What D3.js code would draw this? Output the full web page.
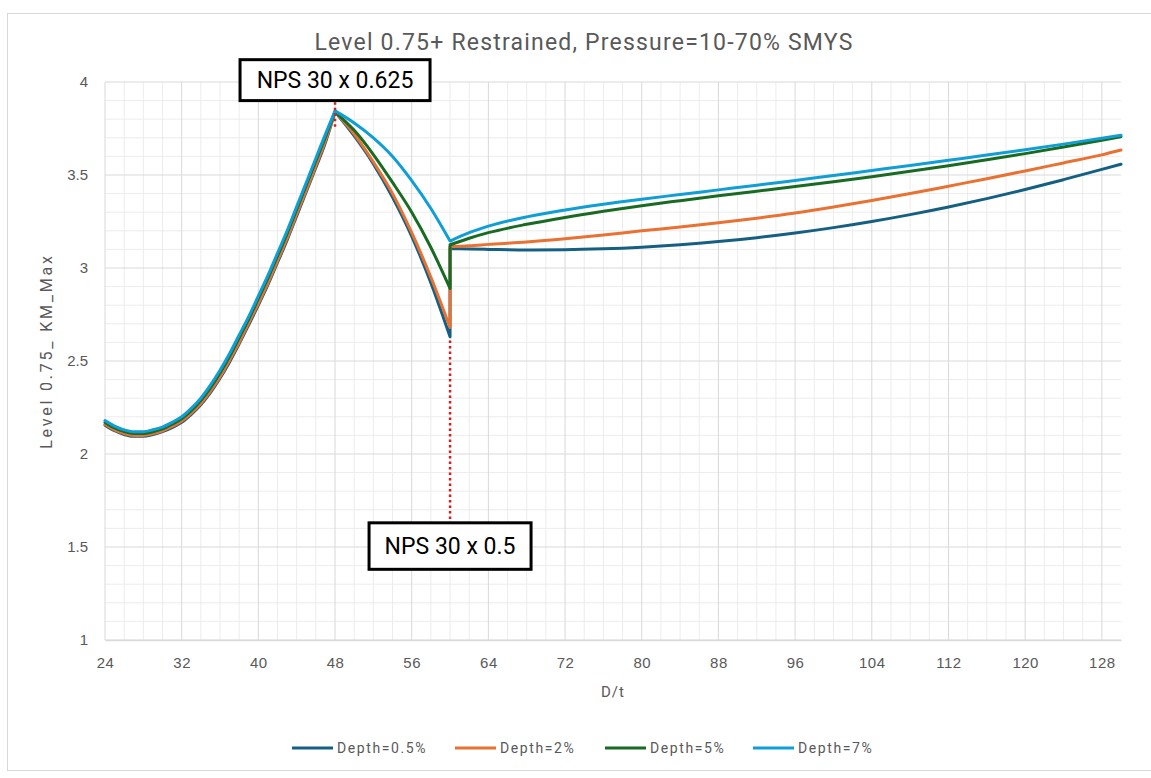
<!DOCTYPE html>
<html>
<head>
<meta charset="utf-8">
<script src="https://cdn.jsdelivr.net/npm/d3@7"></script>
<style>
  html, body { margin: 0; padding: 0; background: #ffffff; }
  svg { display: block; font-family: "Roboto", "Liberation Sans", sans-serif; }
</style>
</head>
<body>
<svg id="chart" width="1151" height="778"></svg>
<script>
// ---------------- DATA ----------------
const chartTitle = "Level 0.75+ Restrained, Pressure=10-70% SMYS";
const xTitle = "D/t";
const yTitle = "Level 0.75_ KM_Max";

// D/t sample points (60 appears twice: the step at NPS 30 x 0.5)
const dt = [24,25,26,27,28,29,30,31,32,33,34,35,36,37,38,39,40,41,42,43,44,45,46,47,48,
            50,52,54,56,58,60,
            60,62,64,68,72,76,80,84,88,92,96,100,104,108,112,116,120,124,128,130];
const cuspDt = 48;

const seriesNames = ["Depth=0.5%", "Depth=2%", "Depth=5%", "Depth=7%"];
const seriesColors = ["#156082", "#E97132", "#196B24", "#0F9ED5"];

const depth05 = [2.155,2.125,2.105,2.095,2.095,2.105,2.12,2.142,2.17,2.213,2.265,2.33,2.407,2.495,2.592,2.695,2.8,2.91,3.03,3.15,3.28,3.41,3.54,3.675,3.84,
                 3.71,3.56,3.38,3.17,2.92,2.63,
                 3.105,3.102,3.10,3.097,3.098,3.103,3.112,3.125,3.142,3.163,3.188,3.217,3.25,3.287,3.328,3.373,3.422,3.475,3.53,3.558];
const depth2  = [2.16,2.13,2.11,2.10,2.10,2.11,2.125,2.148,2.177,2.22,2.272,2.338,2.415,2.505,2.6,2.705,2.81,2.92,3.04,3.16,3.29,3.42,3.55,3.685,3.84,
                 3.72,3.57,3.40,3.19,2.95,2.68,
                 3.115,3.12,3.127,3.14,3.157,3.177,3.20,3.22,3.243,3.268,3.296,3.328,3.363,3.40,3.44,3.48,3.522,3.565,3.608,3.634];
const depth5  = [2.17,2.14,2.12,2.11,2.11,2.12,2.135,2.16,2.19,2.233,2.287,2.355,2.435,2.525,2.625,2.725,2.835,2.945,3.065,3.185,3.315,3.445,3.575,3.705,3.84,
                 3.74,3.61,3.46,3.30,3.11,2.89,
                 3.125,3.16,3.19,3.235,3.272,3.305,3.335,3.362,3.388,3.413,3.438,3.464,3.491,3.52,3.55,3.582,3.615,3.65,3.687,3.706];
const depth7  = [2.18,2.15,2.13,2.12,2.12,2.13,2.145,2.17,2.20,2.245,2.30,2.37,2.45,2.54,2.64,2.74,2.85,2.96,3.08,3.20,3.33,3.46,3.59,3.72,3.845,
                 3.78,3.70,3.60,3.47,3.32,3.145,
                 3.145,3.19,3.225,3.275,3.312,3.343,3.37,3.395,3.42,3.445,3.471,3.497,3.524,3.551,3.579,3.607,3.636,3.666,3.698,3.714];
const seriesValues = [depth05, depth2, depth5, depth7];

const xTicks = [24,32,40,48,56,64,72,80,88,96,104,112,120,128];
const yTicks = [1,1.5,2,2.5,3,3.5,4];
const xDomain = [24, 130];
const yDomain = [1, 4];

// annotations: label, D/t, value span of dotted marker, box position (value units)
const annotations = [
  { label: "NPS 30 x 0.625", dt: 48, from: 3.98, to: 3.75, boxTop: 4.12, boxBottom: 3.9, boxWidth: 190 },
  { label: "NPS 30 x 0.5",   dt: 60, from: 2.61, to: 1.63, boxTop: 1.63, boxBottom: 1.38, boxWidth: 162 }
];

// ---------------- LAYOUT ----------------
const svg = d3.select("#chart");
const W = 1151, H = 778;
const plot = { left: 105, right: 1121, top: 82, bottom: 640 };

const x = d3.scaleLinear().domain(xDomain).range([plot.left, plot.right]);
const y = d3.scaleLinear().domain(yDomain).range([plot.bottom, plot.top]);

const textGray = "#595959";

// chart border
svg.append("rect")
  .attr("x", 7.5).attr("y", 13.5).attr("width", W - 6).attr("height", 757)
  .attr("fill", "#ffffff").attr("stroke", "#d9d9d9").attr("stroke-width", 1);

// minor grid
const minorX = d3.range(xDomain[0], xDomain[1], 2).filter(v => !xTicks.includes(v));
const minorY = d3.range(1, 4.0001, 0.1).map(v => +v.toFixed(2)).filter(v => !yTicks.includes(v));
const grid = svg.append("g");
grid.selectAll("line.mx").data(minorX).join("line")
  .attr("x1", d => x(d)).attr("x2", d => x(d)).attr("y1", plot.top).attr("y2", plot.bottom)
  .attr("stroke", "#ececec").attr("stroke-width", 1);
grid.selectAll("line.my").data(minorY).join("line")
  .attr("x1", plot.left).attr("x2", plot.right).attr("y1", d => y(d)).attr("y2", d => y(d))
  .attr("stroke", "#ececec").attr("stroke-width", 1);
// major grid
grid.selectAll("line.Mx").data(xTicks).join("line")
  .attr("x1", d => x(d)).attr("x2", d => x(d)).attr("y1", plot.top).attr("y2", plot.bottom)
  .attr("stroke", "#d9d9d9").attr("stroke-width", 1);
grid.selectAll("line.My").data(yTicks).join("line")
  .attr("x1", plot.left).attr("x2", plot.right).attr("y1", d => y(d)).attr("y2", d => y(d))
  .attr("stroke", "#d9d9d9").attr("stroke-width", 1);

// axes via d3 axis generators (labels only)
const xAxis = d3.axisBottom(x).tickValues(xTicks).tickSize(0).tickPadding(17).tickFormat(d3.format("d"));
const gx = svg.append("g").attr("transform", `translate(0,${plot.bottom})`).call(xAxis);
gx.select(".domain").attr("stroke", "#d9d9d9").attr("stroke-width", 1.5);
gx.selectAll("text").attr("fill", textGray).style("font-size", "15px").style("letter-spacing", "0.5px");

const yAxis = d3.axisLeft(y).tickValues(yTicks).tickSize(0).tickPadding(17).tickFormat(d => d);
const gy = svg.append("g").attr("transform", `translate(${plot.left},0)`).call(yAxis);
gy.select(".domain").remove();
gy.selectAll("text").attr("fill", textGray).style("font-size", "15px");

// title and axis titles
svg.append("text").attr("x", 584).attr("y", 50).attr("text-anchor", "middle")
  .attr("fill", textGray).style("font-size", "23px").style("letter-spacing", "1.2px").text(chartTitle);
svg.append("text").attr("x", 613).attr("y", 697).attr("text-anchor", "middle")
  .attr("fill", textGray).style("font-size", "15px").style("letter-spacing", "1px").text(xTitle);
svg.append("text").attr("transform", `translate(52,${(plot.top + plot.bottom) / 2 - 10}) rotate(-90)`)
  .attr("text-anchor", "middle").attr("fill", textGray).style("font-size", "16px")
  .style("letter-spacing", "2.8px").text(yTitle);

// series lines
const lineGen = d3.line().x(d => x(d[0])).y(d => y(d[1])).curve(d3.curveMonotoneX);
function buildPath(vals) {
  const pts = dt.map((v, i) => [v, vals[i]]);
  const segs = [[pts[0]]];
  for (let i = 1; i < pts.length; i++) {
    if (pts[i][0] === pts[i - 1][0]) { segs.push([pts[i]]); continue; }
    segs[segs.length - 1].push(pts[i]);
    if (pts[i][0] === cuspDt) segs.push([pts[i]]);
  }
  return segs.filter(s => s.length > 1).map((s, k) => {
    const d = lineGen(s);
    return k > 0 ? "L" + d.slice(1) : d;
  }).join("");
}
svg.append("g").selectAll("path").data(seriesValues).join("path")
  .attr("d", d => buildPath(d))
  .attr("fill", "none")
  .attr("stroke", (d, i) => seriesColors[i])
  .attr("stroke-width", 3)
  .attr("stroke-linejoin", "round")
  .attr("stroke-linecap", "round");

// annotations
const ann = svg.append("g");
annotations.forEach(a => {
  ann.append("line")
    .attr("x1", x(a.dt)).attr("x2", x(a.dt)).attr("y1", y(a.from)).attr("y2", y(a.to))
    .attr("stroke", "#d21f1f").attr("stroke-width", 2.5).attr("stroke-dasharray", "2.5,3");
  const bt = y(a.boxTop), bb = y(a.boxBottom);
  ann.append("rect")
    .attr("x", x(a.dt) - a.boxWidth / 2).attr("y", bt)
    .attr("width", a.boxWidth).attr("height", bb - bt)
    .attr("fill", "#ffffff").attr("stroke", "#000000").attr("stroke-width", 3);
  ann.append("text")
    .attr("x", x(a.dt)).attr("y", (bt + bb) / 2 + 8)
    .attr("text-anchor", "middle").attr("fill", "#000000")
    .style("font-size", "23px").text(a.label);
});

// legend
const legendX = [292, 455, 605, 753];
const legendY = 748;
const lg = svg.append("g");
seriesNames.forEach((name, i) => {
  lg.append("line").attr("x1", legendX[i]).attr("x2", legendX[i] + 41)
    .attr("y1", legendY).attr("y2", legendY)
    .attr("stroke", seriesColors[i]).attr("stroke-width", 3);
  lg.append("text").attr("x", legendX[i] + 45).attr("y", legendY + 5)
    .attr("fill", textGray).style("font-size", "14px").style("letter-spacing", "1.6px").text(name);
});
</script>
</body>
</html>
